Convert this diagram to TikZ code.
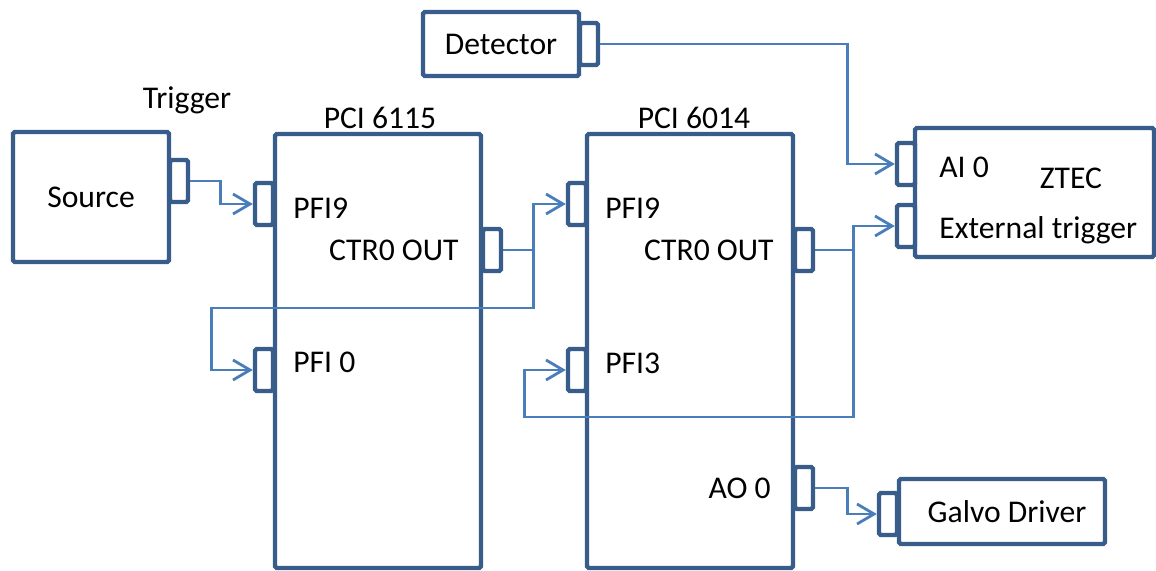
\documentclass[tikz,border=0pt]{standalone}
\usepackage{fontspec}
\setmainfont{Carlito}
\usetikzlibrary{positioning,arrows.meta}
\definecolor{azul}{HTML}{385D8A}
\definecolor{celeste}{HTML}{4A7EBB}

\begin{document}
\begin{tikzpicture}[x=0.02cm, y=-0.02cm, font=\fontsize{18}{20}\selectfont,
      >={Straight Barb[length=3.4mm, width=4mm]},
      caja/.style={draw=azul, fill=white, line width=2.5pt, rounded corners=1pt, inner sep=0pt},
      puerto/.style={caja, minimum width=0.36cm, minimum height=0.84cm},
      senal/.style={->, celeste, line width=1.6pt},
      rotulo/.style={inner sep=0pt}]
    \useasboundingbox (0,0) rectangle (1156,571);
    \node[caja, minimum width=3.12cm, minimum height=2.6cm] (source) at (91,197) {Source};
    \node[caja, minimum width=3.12cm, minimum height=1.28cm] (det) at (501,44) {Detector};
    \node[caja, minimum width=4.12cm, minimum height=8.68cm] (pci6115) at (378,351) {};
    \node[caja, minimum width=4.12cm, minimum height=8.68cm] (pci6014) at (690,351) {};
    \node[caja, minimum width=4.78cm, minimum height=2.58cm] (ztec) at (1034.5,192.5) {};
    \node[caja, minimum width=4.12cm, minimum height=1.3cm] (galvo) at (1002,511.5) {\hspace{0.2cm}Galvo Driver};
    \node[puerto] (srcout) at (179,181) {};
    \node[puerto] (detout) at (589,44) {};
    \node[puerto] (a_pfi9) at (264,204) {};
    \node[puerto] (a_ctr) at (492,250) {};
    \node[puerto] (a_pfi0) at (264,370) {};
    \node[puerto] (b_pfi9) at (577,204) {};
    \node[puerto] (b_ctr) at (804,250) {};
    \node[puerto] (b_pfi3) at (577,370) {};
    \node[puerto] (b_ao) at (804,488) {};
    \node[puerto] (z_ai) at (906,164) {};
    \node[puerto] (z_ext) at (906,226) {};
    \node[puerto] (g_in) at (888,514) {};
    \node[rotulo] (t_trig) at (187,100) {Trigger};
    \node[rotulo] (t_6115) at (380,118) {PCI 6115};
    \node[rotulo] (t_6014) at (694,118) {PCI 6014};
    \node[rotulo, anchor=west] (t_a9) at (293,208) {PFI9};
    \node[rotulo, anchor=east] (t_actr) at (459,250) {CTR0 OUT};
    \node[rotulo, anchor=west] (t_a0) at (293,362) {PFI 0};
    \node[rotulo, anchor=west] (t_b9) at (605,208) {PFI9};
    \node[rotulo, anchor=east] (t_bctr) at (774,250) {CTR0 OUT};
    \node[rotulo, anchor=west] (t_b3) at (605,363) {PFI3};
    \node[rotulo, anchor=east] (t_ao) at (771,488) {AO 0};
    \node[rotulo, anchor=west] (t_ai) at (939,167) {AI 0};
    \node[rotulo] (t_ztec) at (1071,178) {ZTEC};
    \node[rotulo, anchor=west] (t_ext) at (939,230) {External trigger};
    \draw[senal] (srcout.east) -- ++(30,0) |- (a_pfi9.west);
    \draw[senal] (a_ctr.east) -- ++(30,0) coordinate (nudo1) |- (b_pfi9.west);
    \draw[senal] (nudo1) -- ++(0,58) -| ([xshift=-0.82cm]a_pfi0.west) -- (a_pfi0.west);
    \draw[senal] (detout.east) -| ([xshift=-0.94cm]z_ai.west) -- (z_ai.west);
    \draw[senal] (b_ctr.east) -- ++(38,0) coordinate (nudo2) |- (z_ext.west);
    \draw[senal] (nudo2) -- ++(0,167) -| ([xshift=-0.82cm]b_pfi3.west) -- (b_pfi3.west);
    \draw[senal] (b_ao.east) -- ++(32,0) |- (g_in.west);
  \end{tikzpicture}
\end{document}
